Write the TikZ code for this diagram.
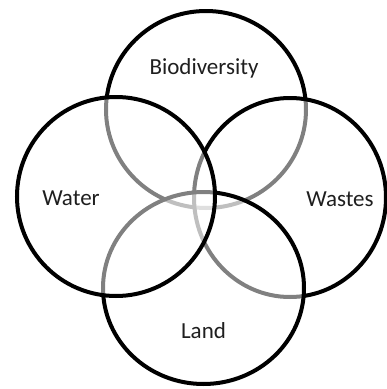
\documentclass[tikz,border=0pt]{standalone}
\usepackage{fontspec}
\setmainfont{Carlito}
\begin{document}
\begin{tikzpicture}[x=1pt,y=-1pt,
  venn/.style={draw=black, line width=4pt, fill=white, fill opacity=0.5},
  lbl/.style={anchor=base, text=black!88, font=\fontsize{23}{26}\selectfont, inner sep=0pt}]
\useasboundingbox (0,0) rectangle (387,389);
% circles, bottom layer first
\path[venn] (206,109.5) ellipse [x radius=100, y radius=98.5];
\path[venn] (290,197.5) ellipse [x radius=96, y radius=99.5];
\path[venn] (203.5,288) ellipse [x radius=100.5, y radius=96];
\path[venn] (116,196.5) ellipse [x radius=99, y radius=99.5];
% labels
\node[lbl] (bio) at (204,74) {Biodiversity};
\node[lbl] (water) at (71,205) {Water};
\node[lbl] (wastes) at (340,206) {Wastes};
\node[lbl] (land) at (203.5,338) {Land};
\end{tikzpicture}
\end{document}
